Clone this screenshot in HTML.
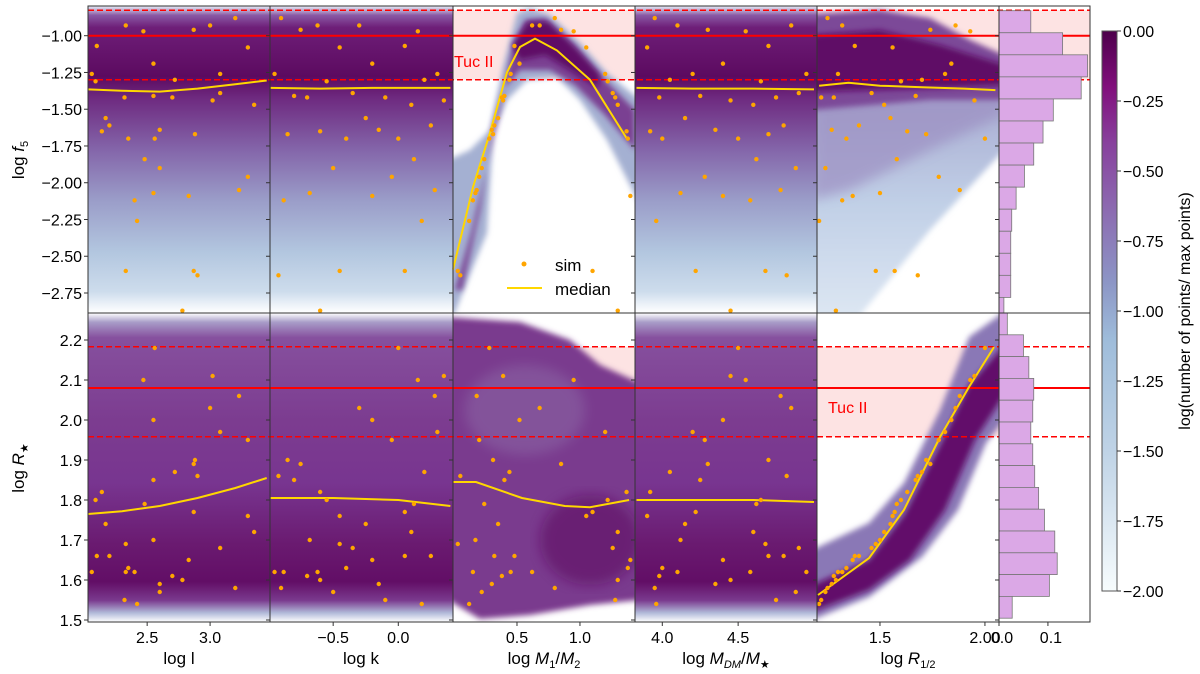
<!DOCTYPE html>
<html><head><meta charset="utf-8">
<style>
html,body{margin:0;padding:0;background:#fff;}
svg{display:block;font-family:"Liberation Sans","DejaVu Sans",sans-serif;}
</style></head>
<body>
<svg id="fig" width="1200" height="674" viewBox="0 0 1200 674" xmlns="http://www.w3.org/2000/svg">
<defs>
  <linearGradient id="gTop" x1="0" y1="0" x2="0" y2="1">
    <stop offset="0" stop-color="#e8eef7"/>
    <stop offset="0.03" stop-color="#8a5aa5"/>
    <stop offset="0.07" stop-color="#6e1e78"/>
    <stop offset="0.23" stop-color="#5c0a60"/>
    <stop offset="0.30" stop-color="#6e2a80"/>
    <stop offset="0.47" stop-color="#8466aa"/>
    <stop offset="0.63" stop-color="#9a9cc8"/>
    <stop offset="0.80" stop-color="#b2c6df"/>
    <stop offset="0.93" stop-color="#cddcec"/>
    <stop offset="0.975" stop-color="#eef3f9"/>
    <stop offset="1" stop-color="#ffffff"/>
  </linearGradient>
  <linearGradient id="gBot" x1="0" y1="0" x2="0" y2="1">
    <stop offset="0" stop-color="#ffffff"/>
    <stop offset="0.03" stop-color="#a89cc8"/>
    <stop offset="0.08" stop-color="#86509e"/>
    <stop offset="0.35" stop-color="#7c3c90"/>
    <stop offset="0.55" stop-color="#783590"/>
    <stop offset="0.75" stop-color="#6a1a70"/>
    <stop offset="0.87" stop-color="#620e66"/>
    <stop offset="0.93" stop-color="#7a3a8e"/>
    <stop offset="0.97" stop-color="#b0b8d8"/>
    <stop offset="1" stop-color="#ffffff"/>
  </linearGradient>
  <linearGradient id="g5t" x1="0" y1="0" x2="0" y2="1">
    <stop offset="0" stop-color="#a6a8d0"/>
    <stop offset="0.5" stop-color="#c0cfe6"/>
    <stop offset="1" stop-color="#dde7f3"/>
  </linearGradient>
  <linearGradient id="gCb" x1="0" y1="1" x2="0" y2="0">
    <stop offset="0" stop-color="#f7fcfd"/>
    <stop offset="0.25" stop-color="#bfd3e6"/>
    <stop offset="0.45" stop-color="#9ebcda"/>
    <stop offset="0.55" stop-color="#8c96c6"/>
    <stop offset="0.68" stop-color="#8c6bb1"/>
    <stop offset="0.80" stop-color="#88419d"/>
    <stop offset="0.90" stop-color="#810f7c"/>
    <stop offset="1" stop-color="#4d004b"/>
  </linearGradient>
  <filter id="blur3"><feGaussianBlur stdDeviation="3"/></filter>
  <filter id="blur6"><feGaussianBlur stdDeviation="6"/></filter>
  <clipPath id="cTop"><rect x="88" y="6" width="911" height="307"/></clipPath>
  <clipPath id="cBot"><rect x="88" y="313" width="911" height="309"/></clipPath>
  <clipPath id="c3t"><rect x="453" y="6" width="182" height="307"/></clipPath>
  <clipPath id="c5t"><rect x="817" y="6" width="182" height="307"/></clipPath>
  <clipPath id="c3b"><rect x="453" y="313" width="182" height="309"/></clipPath>
  <clipPath id="c5b"><rect x="817" y="313" width="182" height="309"/></clipPath>
</defs>
<g id="layer"></g>
</svg>
<script>
// ---------- data ----------
const colLabels = ["log l","log k","log M1/M2","log MDM/M★","log R1/2"];
const colTicks = [[2.5,3.0],[-0.5,0.0],[0.5,1.0],[4.0,4.5],[1.5,2.0]];
const colTickLabels = [["2.5","3.0"],["−0.5","0.0"],["0.5","1.0"],["4.0","4.5"],["1.5","2.00"]];
const topTicks = [-1.0,-1.25,-1.5,-1.75,-2.0,-2.25,-2.5,-2.75];
const topTickLabels = ["−1.00","−1.25","−1.50","−1.75","−2.00","−2.25","−2.50","−2.75"];
const botTicks = [2.2,2.1,2.0,1.9,1.8,1.7,1.6,1.5];
const botTickLabels = ["2.2","2.1","2.0","1.9","1.8","1.7","1.6","1.5"];
const cbTicks = [0,-0.25,-0.5,-0.75,-1.0,-1.25,-1.5,-1.75,-2.0];
const cbTickLabels = ["0.00","−0.25","−0.50","−0.75","−1.00","−1.25","−1.50","−1.75","−2.00"];
const tucF5 = -1.0, tucF5Lo = -1.30, tucF5Hi = -0.827;
const tucR = 2.08, tucRLo = 1.958, tucRHi = 2.183;
// sim points
const simF5 = [-0.93,-0.97,-0.88,-0.93,-0.96,-1.07,-1.08,-1.19,-1.26,-1.26,-1.31,-1.30,-1.42,-1.42,-1.44,-1.39,-1.41,-1.47,-1.56,-1.61,-1.65,-1.64,-1.67,-1.70,-1.70,-1.84,-1.90,-1.96,-2.07,-2.05,-2.09,-2.12,-2.26,-2.60,-2.60,-2.63,-2.87];
const simR  = [1.62,2.10,1.58,2.03,1.89,1.66,1.76,2.00,1.62,1.97,1.80,1.87,1.55,1.61,2.11,1.68,1.85,1.72,1.74,1.66,1.82,1.59,1.90,2.18,1.63,1.79,1.57,1.95,1.70,2.06,1.65,1.62,1.54,1.69,1.77,1.86,1.60];
const simL  = [2.33,2.47,3.20,3.00,2.87,2.10,3.30,2.55,2.06,3.08,2.09,2.72,2.32,2.70,3.02,3.08,2.55,3.35,2.17,2.20,2.14,2.60,2.88,2.56,2.35,2.48,2.60,3.30,2.55,3.23,2.83,2.40,2.42,2.33,2.87,2.90,2.78];
const simK  = [-0.62,0.15,-0.90,-0.30,-0.75,0.05,-0.45,-0.20,-0.95,0.30,-0.55,0.20,-0.10,-0.70,0.35,-0.35,-0.80,0.10,-0.25,0.25,-0.60,-0.15,-0.85,0.00,-0.40,0.12,-0.50,-0.05,-0.68,0.28,-0.20,-0.88,0.18,-0.45,0.05,-0.92,-0.60];
const simM  = [0.62,0.95,0.80,0.68,0.85,0.48,1.05,0.52,0.45,1.20,1.22,0.44,1.28,0.38,0.39,1.26,0.40,1.30,0.35,0.32,1.37,0.30,0.31,0.28,1.38,0.24,0.22,0.20,0.17,0.18,1.40,0.15,0.12,0.03,1.10,0.05,1.30];
const simMdm= [4.10,4.55,3.95,4.85,4.30,4.70,3.90,4.40,4.95,4.20,4.65,4.05,4.75,3.98,4.45,4.90,4.25,4.60,4.15,4.80,3.92,4.35,4.70,4.50,4.00,4.62,4.88,4.28,4.12,4.78,4.40,4.58,3.96,4.68,4.22,4.82,4.45];
const simR12= [1.32,1.93,1.25,1.86,1.74,1.38,1.56,1.84,1.30,1.81,1.60,1.70,1.22,1.28,1.95,1.46,1.67,1.52,1.55,1.40,1.63,1.27,1.72,2.00,1.34,1.58,1.24,1.78,1.50,1.88,1.37,1.32,1.21,1.48,1.57,1.68,1.29];
// medians: top row (log f5)
const medTopX = [[2.03,2.3,2.6,2.9,3.2,3.45],[-0.98,-0.6,-0.2,0.2,0.4],[-0.008,0.151,0.286,0.42,0.524,0.643,0.817,1.08,1.38],[3.83,4.2,4.6,5.0],[1.21,1.35,1.5,1.7,1.9,2.05]];
const medTopY = [[-1.365,-1.375,-1.38,-1.36,-1.33,-1.305],[-1.355,-1.36,-1.355,-1.355,-1.355],[-2.59,-2.03,-1.66,-1.25,-1.077,-1.02,-1.10,-1.30,-1.71],[-1.355,-1.36,-1.36,-1.365],[-1.34,-1.32,-1.34,-1.35,-1.36,-1.37]];
// medians: bottom row (log R*)
const medBotX = [[2.03,2.3,2.6,2.9,3.2,3.45],[-0.98,-0.5,0.0,0.4],[-0.008,0.175,0.54,0.88,1.08,1.39],[3.83,4.2,4.6,5.0],[1.205,1.448,1.614,1.786,1.924,2.043]];
const medBotY = [[1.765,1.772,1.785,1.805,1.83,1.855],[1.805,1.805,1.80,1.785],[1.845,1.845,1.805,1.785,1.782,1.80],[1.80,1.80,1.80,1.795],[1.5625,1.655,1.775,1.9575,2.0825,2.1825]];
// histograms
const histTopEdges = [-0.83,-0.98,-1.13,-1.28,-1.43,-1.58,-1.73,-1.88,-2.03,-2.18,-2.33,-2.48,-2.63,-2.78,-2.90];
const histTopVals = [0.065,0.130,0.181,0.168,0.111,0.090,0.071,0.052,0.035,0.026,0.024,0.024,0.024,0.010];
const histBotEdges = [2.2675,2.213,2.1585,2.104,2.0495,1.995,1.9405,1.886,1.8315,1.777,1.7225,1.668,1.6135,1.559,1.5045];
const histBotVals = [0.017,0.050,0.061,0.071,0.069,0.065,0.069,0.073,0.081,0.093,0.114,0.119,0.103,0.027];

// ---------- axes ----------
const cols = [{x0:88,x1:270,d0:2.03,d1:3.476},{x0:270,x1:453,d0:-0.985,d1:0.42},{x0:453,x1:635,d0:-0.008,d1:1.437},{x0:635,x1:817,d0:3.82,d1:5.02},{x0:817,x1:999,d0:1.2,d1:2.067}];
const rowT = {y0:6,y1:313,d0:-0.798,d1:-2.886};
const rowB = {y0:313,y1:622,d0:2.2675,d1:1.495};
const hx = {x0:999,x1:1090,d0:0,d1:0.186};
function sx(c,v){const C=cols[c];return C.x0+(v-C.d0)/(C.d1-C.d0)*(C.x1-C.x0);}
function syT(v){return rowT.y0+(v-rowT.d0)/(rowT.d1-rowT.d0)*(rowT.y1-rowT.y0);}
function syB(v){return rowB.y0+(v-rowB.d0)/(rowB.d1-rowB.d0)*(rowB.y1-rowB.y0);}
function hxs(v){return hx.x0+(v-hx.d0)/(hx.d1-hx.d0)*(hx.x1-hx.x0);}
function cby(v){return 31+(0-v)/2*(591-31);}

const NS="http://www.w3.org/2000/svg";
const L=document.getElementById('layer');
function mk(tag,attrs,parent,text){const e=document.createElementNS(NS,tag);for(const k in attrs)e.setAttribute(k,attrs[k]);if(text!==undefined)e.textContent=text;(parent||L).appendChild(e);return e;}

let e;
e=mk('rect',{x:88,y:syT(tucF5Hi),width:1002,height:syT(tucF5Lo)-syT(tucF5Hi),fill:'#fde3e3'});


e=mk('rect',{x:88,y:syB(tucRHi),width:911,height:syB(tucRLo)-syB(tucRHi),fill:'#fde3e3'});



[0,1,3].forEach(c=>{
  e=mk('rect',{x:cols[c].x0,y:6,width:cols[c].x1-cols[c].x0,height:307,fill:'url(#gTop)'});
  
  
  e=mk('rect',{x:cols[c].x0,y:313,width:cols[c].x1-cols[c].x0,height:309,fill:'url(#gBot)'});
  
  
});
let g3=mk('g',{'clip-path':'url(#c3t)'});


mk('path',{d:'M448,160 L470,150 L490,130 L503,67 L517,13 L530,8 L550,15 L580,43 L607,73 L640,100 L640,205 L607,140 L580,100 L557,77 L527,80 L507,100 L493,133 L487,233 L473,267 L455,312 L448,320 Z',fill:'#a4b0d2',filter:'url(#blur3)'},g3);
mk('path',{d:'M455,290 L472,230 L488,160 L500,110 L512,50 L525,20 L545,18 L575,45 L605,80 L635,110 L635,150 L605,115 L575,85 L550,70 L520,70 L503,90 L492,130 L480,210 L462,290 Z',fill:'#7a3f92',filter:'url(#blur3)'},g3);
mk('path',{d:'M512,45 L528,22 L548,22 L575,48 L600,75 L598,88 L570,70 L545,55 L520,60 Z',fill:'#5e0f66',filter:'url(#blur3)'},g3);
let g5=mk('g',{'clip-path':'url(#c5t)'});


mk('path',{d:'M812,85 L1004,85 L1004,150 L930,230 L858,318 L812,318 Z',fill:'url(#g5t)',filter:'url(#blur3)'},g5);
mk('path',{d:'M812,95 L1004,95 L1004,115 L930,150 L850,190 L812,200 Z',fill:'#9c8fc2',opacity:0.7,filter:'url(#blur6)'},g5);
mk('path',{d:'M812,14 L880,10 L930,18 L970,40 L1004,55 L1004,100 L930,100 L812,110 Z',fill:'#7c4a98',filter:'url(#blur3)'},g5);
mk('path',{d:'M812,35 L880,30 L940,45 L1004,65 L1004,85 L940,88 L812,92 Z',fill:'#5e0f66',filter:'url(#blur3)'},g5);
let gb3=mk('g',{'clip-path':'url(#c3b)'});


mk('path',{d:'M448,317 L520,322 L570,340 L600,365 L640,383 L640,600 L590,605 L530,615 L480,619 L448,600 Z',fill:'#7a3a8e',filter:'url(#blur3)'},gb3);
mk('ellipse',{cx:525,cy:410,rx:60,ry:45,fill:'#9a8ab8',opacity:0.3,filter:'url(#blur6)'},gb3);
mk('ellipse',{cx:590,cy:540,rx:50,ry:45,fill:'#5e0c62',opacity:0.6,filter:'url(#blur6)'},gb3);
let gb5=mk('g',{'clip-path':'url(#c5b)'});


mk('path',{d:'M812,550 L869,523 L904,483 L940,410 L969,337 L1004,312 L1004,420 L986,443 L958,510 L922,557 L869,597 L812,620 Z',fill:'#8a78b6',filter:'url(#blur3)'},gb5);
mk('path',{d:'M812,585 L869,560 L904,515 L940,445 L969,385 L1004,345 L1004,395 L975,440 L945,510 L910,560 L869,590 L812,612 Z',fill:'#62106a',filter:'url(#blur3)'},gb5);

function hline(y,dash,name){e=mk('line',{x1:88,x2:1090,y1:y,y2:y,stroke:'#ff0000','stroke-width':dash?1.5:2,'stroke-dasharray':dash?'6,3':'none'});

}
hline(syT(tucF5),false,'tuc-ii-f5-line');
hline(syT(tucF5Lo),true,'tuc-ii-f5-lower');
hline(syT(tucF5Hi),true,'tuc-ii-f5-upper');
e=mk('line',{x1:88,x2:1090,y1:syB(tucR),y2:syB(tucR),stroke:'#ff0000','stroke-width':2});


[tucRLo,tucRHi].forEach((v,i)=>{e=mk('line',{x1:88,x2:1090,y1:syB(v),y2:syB(v),stroke:'#ff0000','stroke-width':1.5,'stroke-dasharray':'6,3'});

});

for(let i=0;i<histTopVals.length;i++){
  const y0=syT(histTopEdges[i]),y1=syT(histTopEdges[i+1]);
  e=mk('rect',{x:hx.x0,y:y0,width:hxs(histTopVals[i])-hx.x0,height:y1-y0,fill:'#dba8e6',stroke:'#777','stroke-width':0.8});
  
  
}
for(let i=0;i<histBotVals.length;i++){
  const y0=syB(histBotEdges[i]),y1=syB(histBotEdges[i+1]);
  e=mk('rect',{x:hx.x0,y:y0,width:hxs(histBotVals[i])-hx.x0,height:y1-y0,fill:'#dba8e6',stroke:'#777','stroke-width':0.8});
  
  
}

const simX=[simL,simK,simM,simMdm,simR12];
for(let c=0;c<5;c++){
  let p=medTopX[c].map((v,i)=>sx(c,v).toFixed(1)+','+syT(medTopY[c][i]).toFixed(1)).join(' ');
  e=mk('polyline',{points:p,fill:'none',stroke:'#ffd700','stroke-width':2,'clip-path':'url(#cTop)'});
  
  
  p=medBotX[c].map((v,i)=>sx(c,v).toFixed(1)+','+syB(medBotY[c][i]).toFixed(1)).join(' ');
  e=mk('polyline',{points:p,fill:'none',stroke:'#ffd700','stroke-width':2,'clip-path':'url(#cBot)'});
  
  
  for(let i=0;i<simF5.length;i++){
    const X=sx(c,simX[c][i]);
    e=mk('circle',{cx:X,cy:syT(simF5[i]),r:2.2,fill:'#ffa500'});
    
    
    e=mk('circle',{cx:X,cy:syB(simR[i]),r:2.2,fill:'#ffa500'});
    
    
  }
}

function frame(x,y,w,h,name){e=mk('rect',{x:x,y:y,width:w,height:h,fill:'none',stroke:'#333','stroke-width':1});

}
for(let c=0;c<5;c++){frame(cols[c].x0,6,cols[c].x1-cols[c].x0,307,'panel-top-col'+(c+1));frame(cols[c].x0,313,cols[c].x1-cols[c].x0,309,'panel-bottom-col'+(c+1));}
frame(999,6,91,307,'hist-top-panel');frame(999,313,91,309,'hist-bottom-panel');
const xs=[...cols.map(c=>c.x0),999];
xs.forEach(x=>{
  topTicks.forEach(v=>mk('line',{x1:x-4,x2:x,y1:syT(v),y2:syT(v),stroke:'#333'}));
  botTicks.forEach(v=>mk('line',{x1:x-4,x2:x,y1:syB(v),y2:syB(v),stroke:'#333'}));
});
topTicks.forEach((v,i)=>{e=mk('text',{x:82,y:syT(v)+6,'text-anchor':'end','font-size':16,fill:'#000'},L,topTickLabels[i]);

});
botTicks.forEach((v,i)=>{e=mk('text',{x:82,y:syB(v)+6,'text-anchor':'end','font-size':16,fill:'#000'},L,botTickLabels[i]);

});
for(let c=0;c<5;c++){
  colTicks[c].forEach((v,i)=>{const X=sx(c,v);mk('line',{x1:X,x2:X,y1:622,y2:626,stroke:'#333'});
    e=mk('text',{x:X,y:643,'text-anchor':'middle','font-size':16,fill:'#000'},L,colTickLabels[c][i]);
    
    });
}
[[0,'0.0'],[0.1,'0.1']].forEach(t=>{const X=hxs(t[0]);mk('line',{x1:X,x2:X,y1:622,y2:626,stroke:'#333'});
  e=mk('text',{x:X+3,y:643,'text-anchor':'middle','font-size':16,fill:'#000'},L,t[1]);
  
  });

e=mk('rect',{x:1102,y:31,width:15,height:560,fill:'url(#gCb)',stroke:'#555','stroke-width':1});


cbTicks.forEach((v,i)=>{const Y=cby(v);mk('line',{x1:1117,x2:1121,y1:Y,y2:Y,stroke:'#333'});
  e=mk('text',{x:1123,y:Y+6,'font-size':16,fill:'#000'},L,cbTickLabels[i]);
  
  });
</script>
<script>
(function(){
const NS="http://www.w3.org/2000/svg";const S=document.getElementById('fig');
function t(x,y,str,attrs,name){const e=document.createElementNS(NS,'text');e.setAttribute('x',x);e.setAttribute('y',y);for(const k in attrs)e.setAttribute(k,attrs[k]);e.innerHTML=str;


S.appendChild(e);return e;}
t(179,664,'log l',{'text-anchor':'middle','font-size':17},'x-axis-title-l');
t(361,664,'log k',{'text-anchor':'middle','font-size':17},'x-axis-title-k');
t(544,664,'log <tspan font-style="italic">M</tspan><tspan font-size="11" dy="4">1</tspan><tspan dy="-4">/</tspan><tspan font-style="italic">M</tspan><tspan font-size="11" dy="4">2</tspan>',{'text-anchor':'middle','font-size':17},'x-axis-title-m12');
t(726,664,'log <tspan font-style="italic">M</tspan><tspan font-size="11" dy="4" font-style="italic">DM</tspan><tspan dy="-4">/</tspan><tspan font-style="italic">M</tspan><tspan font-size="11" dy="4">★</tspan>',{'text-anchor':'middle','font-size':17},'x-axis-title-mdm');
t(908,664,'log <tspan font-style="italic">R</tspan><tspan font-size="11" dy="4">1/2</tspan>',{'text-anchor':'middle','font-size':17},'x-axis-title-r12');
t(0,0,'log <tspan font-style="italic">f</tspan><tspan font-size="11" dy="4">5</tspan>',{'text-anchor':'middle','font-size':17,transform:'translate(24,160) rotate(-90)'},'y-axis-title-f5');
t(0,0,'log <tspan font-style="italic">R</tspan><tspan font-size="11" dy="4">★</tspan>',{'text-anchor':'middle','font-size':17,transform:'translate(24,468) rotate(-90)'},'y-axis-title-r');
t(0,0,'log(number of points/ max points)',{'text-anchor':'middle','font-size':16,transform:'translate(1190,311) rotate(-90)'},'colorbar-title');
t(454,67,'Tuc II',{'font-size':16,fill:'#ff0000'},'tuc-ii-label-top');
t(828,413,'Tuc II',{'font-size':16,fill:'#ff0000'},'tuc-ii-label-bottom');
const c=document.createElementNS(NS,'circle');c.setAttribute('cx',524);c.setAttribute('cy',264);c.setAttribute('r',2.5);c.setAttribute('fill','#ffa500');


S.appendChild(c);
t(555,271,'sim',{'font-size':17},'legend-sim-label');
const l=document.createElementNS(NS,'line');l.setAttribute('x1',507);l.setAttribute('x2',542);l.setAttribute('y1',288);l.setAttribute('y2',288);l.setAttribute('stroke','#ffd700');l.setAttribute('stroke-width',2);


S.appendChild(l);
t(555,295,'median',{'font-size':17},'legend-median-label');
})();
</script>
</body></html>
